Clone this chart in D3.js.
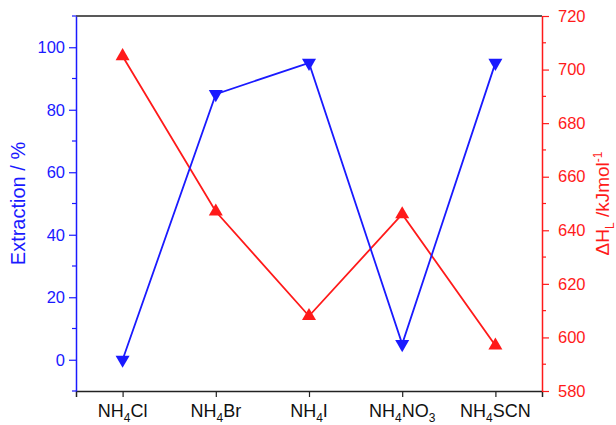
<!DOCTYPE html>
<html>
<head>
<meta charset="utf-8">
<script src="https://cdn.jsdelivr.net/npm/d3@7"></script>
<style>
body { margin: 0; background: #fff; }
text { font-family: "Liberation Sans", Arial, sans-serif; }
</style>
</head>
<body>
<svg id="chart"></svg>
<script>
// salts along the x axis (base, subscript, rest, subscript2)
var salts = [
  ["NH", "4", "Cl", ""],
  ["NH", "4", "Br", ""],
  ["NH", "4", "I", ""],
  ["NH", "4", "NO", "3"],
  ["NH", "4", "SCN", ""]
];
var extraction = [0, 85, 95, 5, 95];
var latticeH = [705, 647, 608, 646, 597];
var leftTicks = [0, 20, 40, 60, 80, 100];
var rightTicks = [580, 600, 620, 640, 660, 680, 700, 720];

var width = 616, height = 425;
var m = {left: 76, right: 74, top: 16, bottom: 34};
var svg = d3.select("#chart").attr("width", width).attr("height", height);

var x = d3.scaleLinear().domain([-0.5, 4.5]).range([m.left, width - m.right]);
var yL = d3.scaleLinear().domain([-10, 110]).range([height - m.bottom, m.top]);
var yR = d3.scaleLinear().domain([580, 720]).range([height - m.bottom, m.top]);

var blue = "#1a1aff", red = "#ff1a1a";

// top frame line
svg.append("line")
  .attr("x1", m.left).attr("x2", width - m.right)
  .attr("y1", m.top).attr("y2", m.top)
  .attr("stroke", "#222").attr("stroke-width", 1.5);

// bottom axis
var xAxis = svg.append("g")
  .attr("transform", "translate(0," + (height - m.bottom) + ")")
  .call(d3.axisBottom(x).tickValues(d3.range(salts.length)).tickSize(6).tickFormat(""));
xAxis.select(".domain").attr("stroke", "#222").attr("stroke-width", 1.5);
xAxis.selectAll(".tick line").attr("stroke", "#222").attr("stroke-width", 1.2);
salts.forEach(function(s, i) {
  var t = svg.append("text")
    .attr("x", x(i)).attr("y", height - 8)
    .attr("text-anchor", "middle")
    .attr("font-size", 18).attr("fill", "#111");
  t.append("tspan").text(s[0]);
  t.append("tspan").text(s[1]).attr("font-size", 12).attr("dy", 5);
  t.append("tspan").text(s[2]).attr("dy", -5);
  if (s[3]) t.append("tspan").text(s[3]).attr("font-size", 12).attr("dy", 5);
});

// left axis
var leftAxis = svg.append("g")
  .attr("transform", "translate(" + m.left + ",0)")
  .call(d3.axisLeft(yL).tickValues(leftTicks).tickSize(7).tickPadding(4).tickSizeOuter(0));
leftAxis.select(".domain").attr("stroke", blue).attr("stroke-width", 1.5);
leftAxis.selectAll(".tick line").attr("stroke", blue).attr("stroke-width", 1.2);
leftAxis.selectAll(".tick text").attr("fill", blue).attr("font-size", 16.5)
  .style("font-family", "'Liberation Sans', Arial, sans-serif");
svg.append("g").selectAll("line")
  .data([-10, 10, 30, 50, 70, 90, 110])
  .enter().append("line")
  .attr("x1", m.left - 4).attr("x2", m.left)
  .attr("y1", function(d) { return yL(d); }).attr("y2", function(d) { return yL(d); })
  .attr("stroke", blue).attr("stroke-width", 1.2);

// right axis
var rightAxis = svg.append("g")
  .attr("transform", "translate(" + (width - m.right) + ",0)")
  .call(d3.axisRight(yR).tickValues(rightTicks).tickSize(7).tickPadding(9).tickSizeOuter(0));
rightAxis.select(".domain").attr("stroke", red).attr("stroke-width", 1.5);
rightAxis.selectAll(".tick line").attr("stroke", red).attr("stroke-width", 1.2);
rightAxis.selectAll(".tick text").attr("fill", red).attr("font-size", 16.5)
  .style("font-family", "'Liberation Sans', Arial, sans-serif");
svg.append("g").selectAll("line")
  .data(d3.range(590, 720, 20))
  .enter().append("line")
  .attr("x1", width - m.right).attr("x2", width - m.right + 4)
  .attr("y1", function(d) { return yR(d); }).attr("y2", function(d) { return yR(d); })
  .attr("stroke", red).attr("stroke-width", 1.2);

// axis titles
svg.append("text")
  .attr("transform", "translate(25," + ((m.top + height - m.bottom) / 2) + ") rotate(-90)")
  .attr("text-anchor", "middle").attr("font-size", 20).attr("fill", blue)
  .text("Extraction / %");
var rt = svg.append("text")
  .attr("transform", "translate(609," + ((m.top + height - m.bottom) / 2) + ") rotate(-90)")
  .attr("text-anchor", "middle").attr("font-size", 19).attr("fill", red);
rt.append("tspan").text("\u0394H");
rt.append("tspan").text("L").attr("font-size", 12).attr("dy", 5);
rt.append("tspan").text(" /kJmol").attr("dy", -5);
rt.append("tspan").text("-1").attr("font-size", 12).attr("dy", -7);

// series lines
var lineL = d3.line().x(function(d, i) { return x(i); }).y(function(d) { return yL(d); });
var lineR = d3.line().x(function(d, i) { return x(i); }).y(function(d) { return yR(d); });

svg.append("path").datum(latticeH).attr("d", lineR)
  .attr("fill", "none").attr("stroke", red).attr("stroke-width", 1.8);
svg.append("path").datum(extraction).attr("d", lineL)
  .attr("fill", "none").attr("stroke", blue).attr("stroke-width", 1.8);

var tri = d3.symbol().type(d3.symbolTriangle).size(85);
svg.append("g").selectAll("path")
  .data(latticeH).enter().append("path")
  .attr("d", tri)
  .attr("transform", function(d, i) { return "translate(" + x(i) + "," + yR(d) + ")"; })
  .attr("fill", red);
svg.append("g").selectAll("path")
  .data(extraction).enter().append("path")
  .attr("d", tri)
  .attr("transform", function(d, i) { return "translate(" + x(i) + "," + yL(d) + ") rotate(180)"; })
  .attr("fill", blue);
</script>
</body>
</html>
